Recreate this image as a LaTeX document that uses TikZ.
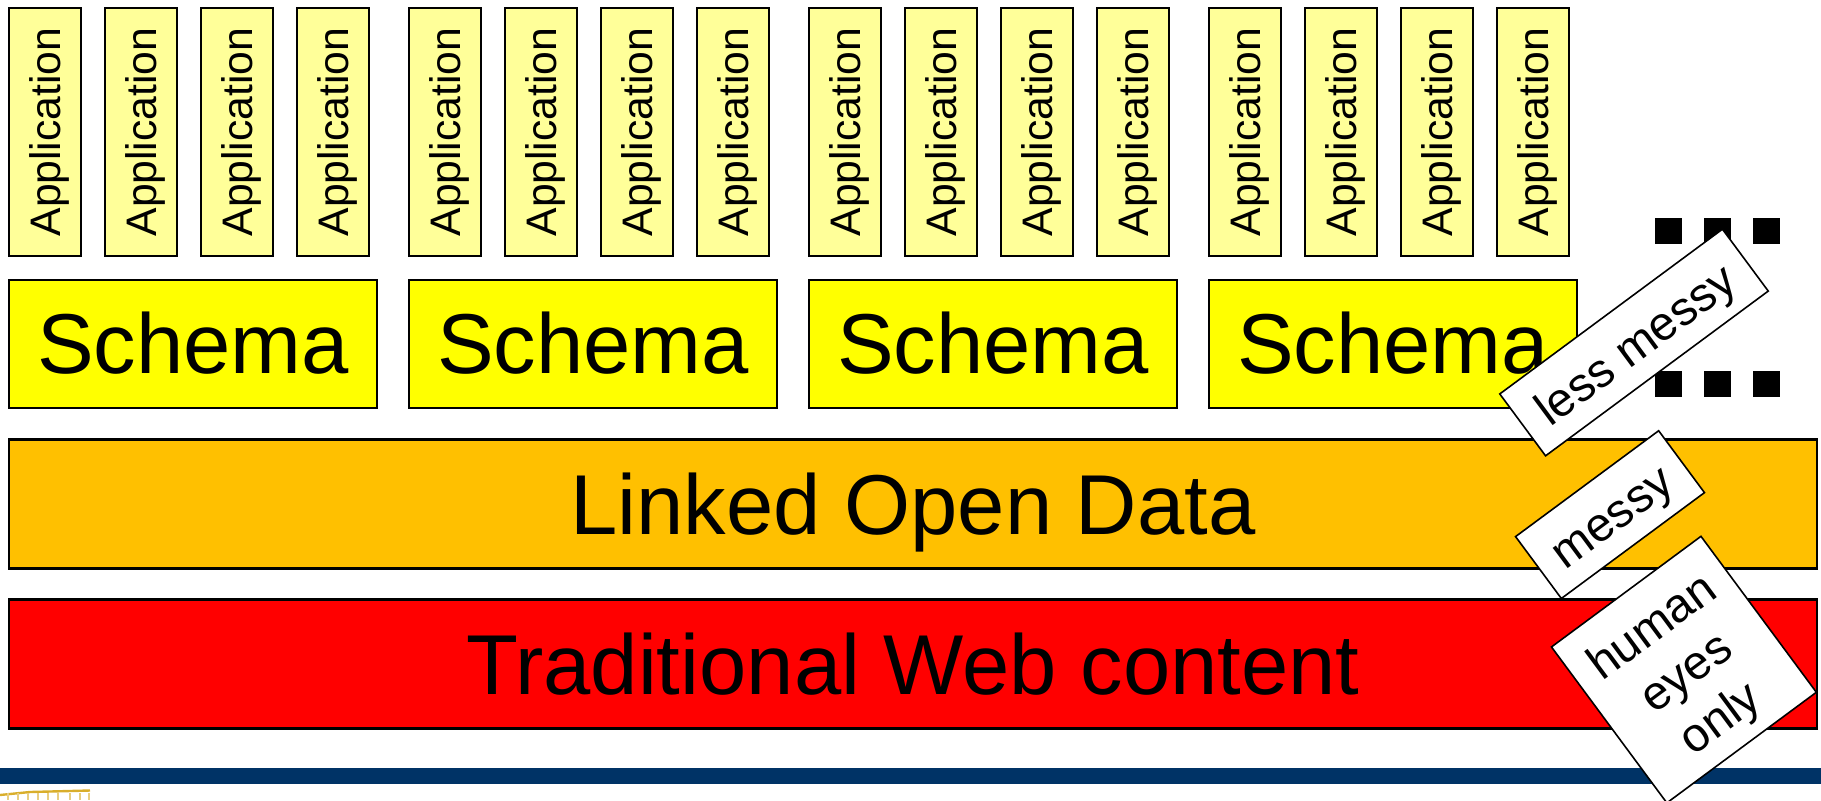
\documentclass[tikz,border=0pt]{standalone}
\usepackage{fontspec}
\usepackage{xcolor}
\setmainfont{Liberation Sans}
\definecolor{appfill}{HTML}{FFFF99}
\definecolor{schemafill}{HTML}{FFFF00}
\definecolor{lodfill}{HTML}{FFC000}
\definecolor{webfill}{HTML}{FF0000}
\definecolor{barfill}{HTML}{003366}
\definecolor{logogold}{HTML}{D9AE2B}
\tikzset{
  appbox/.style={draw=black,line width=1.15pt,fill=appfill,rotate=90,inner sep=0pt,minimum width=124pt,minimum height=36pt,text height=20pt,text depth=4pt,font=\fontsize{21.35pt}{25pt}\selectfont},
  schemabox/.style={draw=black,line width=1.15pt,fill=schemafill,inner sep=0pt,minimum width=184pt,minimum height=64pt,text height=29pt,text depth=0pt,font=\fontsize{42.5pt}{50pt}\selectfont},
  layerbox/.style={draw=black,line width=1.15pt,inner sep=0pt,minimum width=904pt,minimum height=64.5pt,text height=30pt,text depth=0pt,font=\fontsize{42.5pt}{50pt}\selectfont},
  notebox/.style={draw=black,line width=0.8pt,fill=white,rotate=36.5,inner sep=0pt,align=center,font=\fontsize{23.8pt}{28.5pt}\selectfont},
  dotbox/.style={fill=black,inner sep=0pt,minimum width=13.5pt,minimum height=13pt}
}
\begin{document}
\begin{tikzpicture}[x=0.5pt,y=-0.5pt]
    \path[use as bounding box,clip] (0,0) rectangle (1821,800);
    % the four stacks on top
    \foreach \g in {0,1,2,3} {
        \foreach \a in {0,1,2,3} {
            \node[appbox] (app-\g-\a) at ({44.75+400*\g+96*\a},132) {Application};
        }
        \node[schemabox] (schema-\g) at ({193+400*\g},344) {Schema};
    }
    \node[layerbox,fill=lodfill] (lod) at (913,504) {Linked Open Data};
    \node[layerbox,fill=webfill] (web) at (913,664) {Traditional Web content};
    \fill[barfill] (0,768) rectangle (1821,784);
    % dots
    \foreach \n/\px in {1/1668.5,2/1717.5,3/1766.5} {
        \node[dotbox] (dotup-\n) at (\px,231) {};
        \node[dotbox] (dotdown-\n) at (\px,384) {};
    }
    % rotated notes
    \node[notebox,minimum width=89pt,minimum height=38.5pt,text height=18.5pt,text depth=0pt] (messy) at (1610,514.6) {messy};
    \node[notebox,minimum width=138.5pt,minimum height=38.5pt,text height=18.5pt,text depth=0pt] (lessmessy) at (1634,342.5) {less messy};
    \node[notebox,minimum width=93pt,minimum height=97pt,text height=75.5pt,text depth=0pt] (human) at (1683.9,669.6) {human\\eyes\\only};
    % logo scrap
    \draw[logogold,line width=1.2pt] (0,795) -- (30,792) -- (90,790.5);
    \foreach \px in {8,18,28,38,48,58,70,80,89} {
        \draw[logogold!60,line width=1pt] (\px,793) -- (\px,800);
    }
\end{tikzpicture}
\end{document}
